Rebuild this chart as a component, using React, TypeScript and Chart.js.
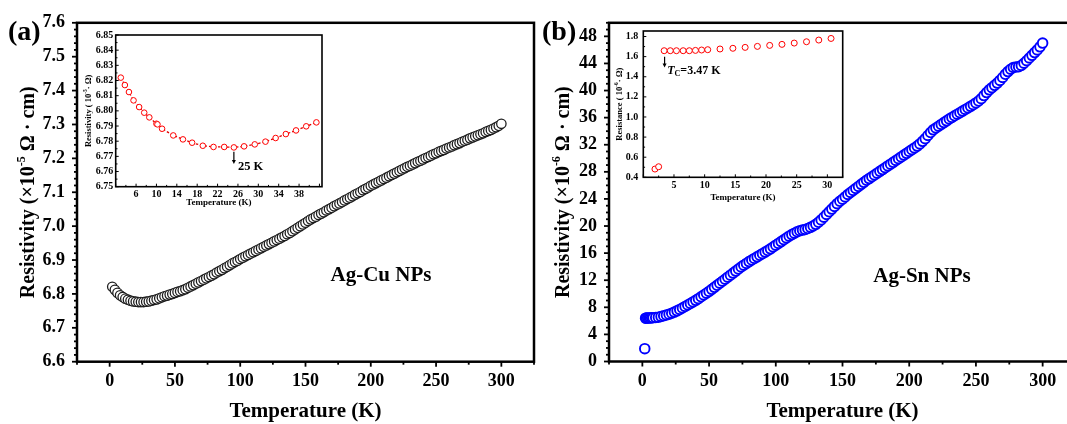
import React, { useEffect, useRef } from "react";
import { Chart, registerables } from "chart.js";

Chart.register(...registerables);

// ---------------- DATA ----------------
// Panel (a): Ag-Cu NPs, resistivity (x10^-5 Ohm cm) vs temperature (K)
const TEMP_A = [2, 4, 6, 8, 10, 12, 14, 16, 18, 20, 22, 24, 26, 28, 30, 32, 34, 36, 38, 40, 42, 44, 46, 48, 50, 52, 54, 56, 58, 60, 62, 64, 66, 68, 70, 72, 74, 76, 78, 80, 82, 84, 86, 88, 90, 92, 94, 96, 98, 100, 102, 104, 106, 108, 110, 112, 114, 116, 118, 120, 122, 124, 126, 128, 130, 132, 134, 136, 138, 140, 142, 144, 146, 148, 150, 152, 154, 156, 158, 160, 162, 164, 166, 168, 170, 172, 174, 176, 178, 180, 182, 184, 186, 188, 190, 192, 194, 196, 198, 200, 202, 204, 206, 208, 210, 212, 214, 216, 218, 220, 222, 224, 226, 228, 230, 232, 234, 236, 238, 240, 242, 244, 246, 248, 250, 252, 254, 256, 258, 260, 262, 264, 266, 268, 270, 272, 274, 276, 278, 280, 282, 284, 286, 288, 290, 292, 294, 296, 298, 300];
const RHO_A = [6.821, 6.812, 6.803, 6.796, 6.791, 6.786, 6.783, 6.78, 6.778, 6.777, 6.776, 6.776, 6.776, 6.777, 6.778, 6.78, 6.782, 6.784, 6.787, 6.79, 6.793, 6.795, 6.798, 6.8, 6.803, 6.806, 6.808, 6.811, 6.814, 6.818, 6.822, 6.826, 6.83, 6.834, 6.838, 6.842, 6.846, 6.85, 6.854, 6.858, 6.863, 6.867, 6.871, 6.876, 6.88, 6.885, 6.89, 6.894, 6.898, 6.903, 6.907, 6.911, 6.915, 6.919, 6.923, 6.927, 6.931, 6.935, 6.939, 6.943, 6.947, 6.951, 6.955, 6.959, 6.963, 6.967, 6.971, 6.976, 6.98, 6.985, 6.99, 6.995, 7.0, 7.005, 7.01, 7.015, 7.02, 7.024, 7.028, 7.033, 7.037, 7.041, 7.046, 7.05, 7.054, 7.059, 7.063, 7.067, 7.071, 7.076, 7.08, 7.084, 7.088, 7.093, 7.097, 7.101, 7.106, 7.11, 7.114, 7.119, 7.123, 7.127, 7.131, 7.135, 7.139, 7.143, 7.147, 7.151, 7.155, 7.159, 7.163, 7.167, 7.171, 7.175, 7.178, 7.182, 7.186, 7.19, 7.193, 7.197, 7.201, 7.204, 7.208, 7.212, 7.215, 7.219, 7.222, 7.225, 7.229, 7.232, 7.235, 7.239, 7.242, 7.245, 7.249, 7.252, 7.255, 7.259, 7.262, 7.265, 7.268, 7.271, 7.274, 7.278, 7.281, 7.284, 7.288, 7.292, 7.296, 7.302];

// Inset of (a)
const TEMP_A_INSET = [3.0, 3.8, 4.6, 5.5, 6.6, 7.6, 8.6, 10.0, 10.2, 11.1, 13.3, 15.2, 17.0, 19.1, 21.2, 23.3, 25.2, 27.2, 29.3, 31.4, 33.4, 35.4, 37.4, 39.4, 41.4];
const RHO_A_INSET = [6.8219, 6.817, 6.8124, 6.8069, 6.8025, 6.7988, 6.7957, 6.7915, 6.7911, 6.7882, 6.7838, 6.7812, 6.779, 6.777, 6.7762, 6.7762, 6.7759, 6.7766, 6.7779, 6.7797, 6.7821, 6.7847, 6.7871, 6.7898, 6.7924];

// Panel (b): Ag-Sn NPs, resistivity (x10^-6 Ohm cm) vs temperature (K)
const TEMP_B = [1.8, 2.4, 3, 4, 5, 6, 7, 8, 10, 12, 14, 16, 18, 20, 22, 24, 26, 28, 30, 32, 34, 36, 38, 40, 42, 44, 46, 48, 50, 52, 54, 56, 58, 60, 62, 64, 66, 68, 70, 72, 74, 76, 78, 80, 82, 84, 86, 88, 90, 92, 94, 96, 98, 100, 102, 104, 106, 108, 110, 112, 114, 116, 118, 120, 122, 124, 126, 128, 130, 132, 134, 136, 138, 140, 142, 144, 146, 148, 150, 152, 154, 156, 158, 160, 162, 164, 166, 168, 170, 172, 174, 176, 178, 180, 182, 184, 186, 188, 190, 192, 194, 196, 198, 200, 202, 204, 206, 208, 210, 212, 214, 216, 218, 220, 222, 224, 226, 228, 230, 232, 234, 236, 238, 240, 242, 244, 246, 248, 250, 252, 254, 256, 258, 260, 262, 264, 266, 268, 270, 272, 274, 276, 278, 280, 282, 284, 286, 288, 290, 292, 294, 296, 298, 300];
const RHO_B = [1.9, 6.4, 6.41, 6.42, 6.43, 6.44, 6.45, 6.46, 6.5, 6.55, 6.65, 6.75, 6.86, 6.98, 7.12, 7.29, 7.48, 7.69, 7.9, 8.12, 8.34, 8.57, 8.8, 9.03, 9.28, 9.55, 9.82, 10.08, 10.35, 10.65, 10.95, 11.25, 11.55, 11.85, 12.15, 12.45, 12.75, 13.05, 13.35, 13.65, 13.95, 14.22, 14.48, 14.75, 14.98, 15.22, 15.45, 15.68, 15.92, 16.15, 16.38, 16.63, 16.9, 17.17, 17.43, 17.7, 17.97, 18.23, 18.5, 18.73, 18.95, 19.15, 19.3, 19.4, 19.5, 19.63, 19.8, 20.0, 20.25, 20.55, 20.9, 21.3, 21.7, 22.1, 22.5, 22.9, 23.3, 23.65, 23.95, 24.3, 24.65, 24.95, 25.25, 25.55, 25.85, 26.15, 26.45, 26.75, 27.0, 27.27, 27.53, 27.8, 28.07, 28.33, 28.6, 28.87, 29.13, 29.4, 29.67, 29.93, 30.2, 30.47, 30.73, 31.0, 31.27, 31.53, 31.8, 32.12, 32.5, 32.9, 33.37, 33.8, 34.2, 34.47, 34.73, 35.0, 35.27, 35.53, 35.8, 36.03, 36.27, 36.5, 36.73, 36.97, 37.2, 37.43, 37.67, 37.9, 38.17, 38.45, 38.8, 39.25, 39.7, 40.1, 40.43, 40.77, 41.1, 41.5, 41.93, 42.4, 42.8, 43.15, 43.4, 43.47, 43.53, 43.7, 44.03, 44.4, 44.8, 45.2, 45.6, 46.0, 46.45, 47.0];

// Inset of (b)
const TEMP_B_INSET = [1.9, 2.5, 3.4, 4.4, 5.4, 6.5, 7.5, 8.5, 9.5, 10.5, 12.5, 14.6, 16.6, 18.6, 20.6, 22.6, 24.6, 26.6, 28.6, 30.6];
const R_B_INSET = [0.482, 0.505, 1.659, 1.659, 1.659, 1.659, 1.659, 1.662, 1.666, 1.669, 1.676, 1.683, 1.692, 1.702, 1.712, 1.722, 1.735, 1.748, 1.765, 1.781];

// Tick labels
const X_TICKS_MAIN = [0, 50, 100, 150, 200, 250, 300];
const Y_TICKS_A = [6.6, 6.7, 6.8, 6.9, 7.0, 7.1, 7.2, 7.3, 7.4, 7.5, 7.6];
const Y_TICKS_B = [0, 4, 8, 12, 16, 20, 24, 28, 32, 36, 40, 44, 48];
const X_TICKS_A_INSET = [6, 10, 14, 18, 22, 26, 30, 34, 38];
const Y_TICKS_A_INSET = [6.75, 6.76, 6.77, 6.78, 6.79, 6.8, 6.81, 6.82, 6.83, 6.84, 6.85];
const X_TICKS_B_INSET = [5, 10, 15, 20, 25, 30];
const Y_TICKS_B_INSET = [0.4, 0.6, 0.8, 1.0, 1.2, 1.4, 1.6, 1.8];

// ---------------- HELPERS ----------------
const FAM = '"Liberation Serif", "Times New Roman", serif';
const fnt = (style: string, size: number) => `${style} ${size}px ${FAM}`;

type Part = { t: string; f: string; dy?: number };

function drawParts(ctx: CanvasRenderingContext2D, parts: Part[], x: number, y: number, align: string) {
  let total = 0;
  const widths = parts.map((p) => {
    ctx.font = p.f;
    const w = ctx.measureText(p.t).width;
    total += w;
    return w;
  });
  let cx = align === "center" ? x - total / 2 : align === "right" ? x - total : x;
  ctx.textBaseline = "middle";
  ctx.textAlign = "left";
  ctx.fillStyle = "#000";
  parts.forEach((p, i) => {
    ctx.font = p.f;
    ctx.fillText(p.t, cx, y + (p.dy || 0));
    cx += widths[i];
  });
}

function tickValues(major: number[], sub: number, min: number, max: number) {
  const step = major[1] - major[0];
  const ms = step / sub;
  const k0 = Math.ceil((min - major[0]) / ms - 1e-9);
  const k1 = Math.floor((max - major[0]) / ms + 1e-9);
  const res: { v: number; major: boolean }[] = [];
  for (let k = k0; k <= k1; k++) res.push({ v: major[0] + k * ms, major: k % sub === 0 });
  return res;
}

type DecorCfg = {
  frameWidth: number;
  inward: boolean;
  tickLen: number;
  tickWidth: number;
  xMajor: number[];
  xSub: number;
  yMajor: number[];
  ySub: number;
  fillArea?: boolean;
  xTitle: { parts: Part[]; y: number };
  yTitle: { parts: Part[]; x: number };
  texts?: { parts: Part[]; x: number; y: number; align: string }[];
  dataTexts?: { parts: Part[]; dx: number; dy: number; align: string }[];
  arrows?: { x: number; y1: number; y2: number }[];
};

function makeDecor(cfg: DecorCfg) {
  return {
    id: "decor",
    beforeDraw(chart: any) {
      if (!cfg.fillArea) return;
      const ca = chart.chartArea;
      const ctx = chart.ctx;
      ctx.save();
      ctx.fillStyle = "#fff";
      ctx.fillRect(ca.left, ca.top, ca.right - ca.left, ca.bottom - ca.top);
      ctx.restore();
    },
    afterDraw(chart: any) {
      const ctx: CanvasRenderingContext2D = chart.ctx;
      const ca = chart.chartArea;
      const xs = chart.scales.x;
      const ys = chart.scales.y;
      ctx.save();
      ctx.strokeStyle = "#000";
      ctx.fillStyle = "#000";
      ctx.lineWidth = cfg.tickWidth;
      const dir = cfg.inward ? -1 : 1;
      for (const t of tickValues(cfg.xMajor, cfg.xSub, xs.min, xs.max)) {
        const px = xs.getPixelForValue(t.v);
        const L = t.major ? cfg.tickLen : cfg.tickLen * 0.6;
        ctx.beginPath();
        ctx.moveTo(px, ca.bottom);
        ctx.lineTo(px, ca.bottom + dir * L);
        ctx.stroke();
      }
      for (const t of tickValues(cfg.yMajor, cfg.ySub, ys.min, ys.max)) {
        const py = ys.getPixelForValue(t.v);
        const L = t.major ? cfg.tickLen : cfg.tickLen * 0.6;
        ctx.beginPath();
        ctx.moveTo(ca.left, py);
        ctx.lineTo(ca.left - dir * L, py);
        ctx.stroke();
      }
      // frame
      ctx.lineWidth = cfg.frameWidth;
      ctx.strokeRect(ca.left, ca.top, ca.right - ca.left, ca.bottom - ca.top);
      // axis titles
      drawParts(ctx, cfg.xTitle.parts, (ca.left + ca.right) / 2, cfg.xTitle.y, "center");
      ctx.save();
      ctx.translate(cfg.yTitle.x, (ca.top + ca.bottom) / 2);
      ctx.rotate(-Math.PI / 2);
      drawParts(ctx, cfg.yTitle.parts, 0, 0, "center");
      ctx.restore();
      // free texts
      (cfg.texts || []).forEach((t) => drawParts(ctx, t.parts, t.x, t.y, t.align));
      (cfg.dataTexts || []).forEach((t) =>
        drawParts(ctx, t.parts, xs.getPixelForValue(t.dx), ys.getPixelForValue(t.dy), t.align)
      );
      // arrows
      ctx.lineWidth = 1.2;
      (cfg.arrows || []).forEach((a) => {
        const x = xs.getPixelForValue(a.x);
        const y1 = ys.getPixelForValue(a.y1);
        const y2 = ys.getPixelForValue(a.y2);
        ctx.beginPath();
        ctx.moveTo(x, y1);
        ctx.lineTo(x, y2 - 3);
        ctx.stroke();
        ctx.beginPath();
        ctx.moveTo(x - 2, y2 - 4);
        ctx.lineTo(x + 2, y2 - 4);
        ctx.lineTo(x, y2);
        ctx.closePath();
        ctx.fill();
      });
      ctx.restore();
    },
  };
}

function axis(
  kind: "x" | "y",
  min: number,
  max: number,
  ticks: number[],
  fmt: (v: number) => string,
  size: number,
  pad: number,
  thickness: number
) {
  return {
    type: "linear",
    position: kind === "x" ? "bottom" : "left",
    min,
    max,
    grid: { display: false, drawTicks: false },
    border: { display: false },
    title: { display: false },
    ticks: {
      autoSkip: false,
      maxRotation: 0,
      minRotation: 0,
      padding: pad,
      color: "#000",
      font: { family: FAM, size, weight: "bold" },
      callback: (v: any) => fmt(Number(v)),
    },
    afterBuildTicks: (s: any) => {
      s.ticks = ticks.map((v) => ({ value: v }));
    },
    afterFit: (s: any) => {
      if (kind === "x") s.height = thickness;
      else s.width = thickness;
    },
  };
}

function pts(xs: number[], ys: number[]) {
  return xs.map((x, i) => ({ x, y: ys[i] }));
}

function baseOptions(padding: any, xAxis: any, yAxis: any) {
  return {
    responsive: false,
    maintainAspectRatio: false,
    animation: false,
    events: [],
    layout: { padding },
    plugins: { legend: { display: false }, tooltip: { enabled: false } },
    scales: { x: xAxis, y: yAxis },
  };
}

// ---------------- CONFIGS ----------------
function configMainA() {
  return {
    type: "scatter",
    data: {
      datasets: [
        {
          data: pts(TEMP_A, RHO_A),
          pointRadius: 4.7,
          pointBorderWidth: 1.3,
          pointBorderColor: "#1e1e1e",
          pointBackgroundColor: "#fff",
          showLine: false,
        },
      ],
    },
    options: baseOptions(
      { top: 22.7, right: 6, left: 0, bottom: 0 },
      axis("x", -25, 325, X_TICKS_MAIN, (v) => String(v), 18, 9, 62.3),
      axis("y", 6.6, 7.6, Y_TICKS_A, (v) => v.toFixed(1), 18, 12, 77)
    ),
    plugins: [
      makeDecor({
        frameWidth: 2.5,
        inward: false,
        tickLen: 5,
        tickWidth: 1.8,
        xMajor: X_TICKS_MAIN,
        xSub: 2,
        yMajor: Y_TICKS_A,
        ySub: 5,
        xTitle: { parts: [{ t: "Temperature (K)", f: fnt("bold", 21) }], y: 411.5 },
        yTitle: {
          x: 28.5,
          parts: [
            { t: "Resistivity (×10", f: fnt("bold", 20) },
            { t: "-5", f: fnt("bold", 12), dy: -7 },
            { t: " Ω · cm)", f: fnt("bold", 20) },
          ],
        },
        texts: [
          { parts: [{ t: "(a)", f: fnt("bold", 28) }], x: 8, y: 33, align: "left" },
          { parts: [{ t: "Ag-Cu NPs", f: fnt("bold", 21) }], x: 381, y: 276, align: "center" },
        ],
      }),
    ],
  };
}

function configMainB() {
  return {
    type: "scatter",
    data: {
      datasets: [
        {
          data: pts(TEMP_B, RHO_B),
          pointRadius: 4.8,
          pointBorderWidth: 1.9,
          pointBorderColor: "#0000ff",
          pointBackgroundColor: "#fff",
          showLine: false,
        },
      ],
    },
    options: baseOptions(
      { top: 18.5, right: 9, left: 0, bottom: 0 },
      axis("x", -25, 325, X_TICKS_MAIN, (v) => String(v), 18, 9, 62.5),
      axis("y", 0, 50, Y_TICKS_B, (v) => String(Math.round(v)), 18, 12, 71)
    ),
    plugins: [
      makeDecor({
        frameWidth: 2.5,
        inward: false,
        tickLen: 5,
        tickWidth: 1.8,
        xMajor: X_TICKS_MAIN,
        xSub: 2,
        yMajor: Y_TICKS_B,
        ySub: 4,
        xTitle: { parts: [{ t: "Temperature (K)", f: fnt("bold", 21) }], y: 411.7 },
        yTitle: {
          x: 26,
          parts: [
            { t: "Resistivity (×10", f: fnt("bold", 20) },
            { t: "-6", f: fnt("bold", 12), dy: -7 },
            { t: " Ω · cm)", f: fnt("bold", 20) },
          ],
        },
        texts: [
          { parts: [{ t: "(b)", f: fnt("bold", 28) }], x: 4, y: 33, align: "left" },
          { parts: [{ t: "Ag-Sn NPs", f: fnt("bold", 21) }], x: 384, y: 277, align: "center" },
        ],
      }),
    ],
  };
}

function configInsetA() {
  return {
    type: "scatter",
    data: {
      datasets: [
        {
          data: pts(TEMP_A_INSET, RHO_A_INSET),
          showLine: true,
          borderColor: "#e00000",
          borderWidth: 1.3,
          borderDash: [2.5, 2],
          pointRadius: 2.8,
          pointBorderWidth: 1,
          pointBorderColor: "#ff0000",
          pointBackgroundColor: "#fff",
        },
      ],
    },
    options: baseOptions(
      { top: 10, right: 8, left: 0, bottom: 0 },
      axis("x", 2, 42.5, X_TICKS_A_INSET, (v) => String(v), 10, 1.5, 28.3),
      axis("y", 6.75, 6.85, Y_TICKS_A_INSET, (v) => v.toFixed(2), 10, 2.5, 35.7)
    ),
    plugins: [
      makeDecor({
        frameWidth: 1.6,
        inward: true,
        tickLen: 3,
        tickWidth: 1,
        fillArea: true,
        xMajor: X_TICKS_A_INSET,
        xSub: 2,
        yMajor: Y_TICKS_A_INSET,
        ySub: 2,
        xTitle: { parts: [{ t: "Temperature (K)", f: fnt("bold", 9) }], y: 177.7 },
        yTitle: {
          x: 9,
          parts: [
            { t: "Resistivity ( 10", f: fnt("bold", 8.5) },
            { t: "-5", f: fnt("bold", 5.5), dy: -3 },
            { t: "· Ω)", f: fnt("bold", 8.5) },
          ],
        },
        dataTexts: [{ parts: [{ t: "25 K", f: fnt("bold", 12.5) }], dx: 26, dy: 6.7632, align: "left" }],
        arrows: [{ x: 25.2, y1: 6.773, y2: 6.765 }],
      }),
    ],
  };
}

function configInsetB() {
  return {
    type: "scatter",
    data: {
      datasets: [
        {
          data: pts(TEMP_B_INSET, R_B_INSET),
          showLine: false,
          pointRadius: 3,
          pointBorderWidth: 1,
          pointBorderColor: "#ff0000",
          pointBackgroundColor: "#fff",
        },
      ],
    },
    options: baseOptions(
      { top: 10, right: 12.3, left: 0, bottom: 0 },
      axis("x", 0, 32.5, X_TICKS_B_INSET, (v) => String(v), 10, 1.7, 32.7),
      axis("y", 0.4, 1.855, Y_TICKS_B_INSET, (v) => v.toFixed(1), 10, 5, 43.3)
    ),
    plugins: [
      makeDecor({
        frameWidth: 1.6,
        inward: true,
        tickLen: 3,
        tickWidth: 1,
        fillArea: true,
        xMajor: X_TICKS_B_INSET,
        xSub: 2,
        yMajor: Y_TICKS_B_INSET,
        ySub: 2,
        xTitle: { parts: [{ t: "Temperature (K)", f: fnt("bold", 9) }], y: 177.3 },
        yTitle: {
          x: 20,
          parts: [
            { t: "Resistance ( 10", f: fnt("bold", 8.5) },
            { t: "-6", f: fnt("bold", 5.5), dy: -3 },
            { t: "· Ω)", f: fnt("bold", 8.5) },
          ],
        },
        dataTexts: [
          {
            parts: [
              { t: "T", f: fnt("italic bold", 12) },
              { t: "C", f: fnt("bold", 8), dy: 3 },
              { t: "=3.47 K", f: fnt("bold", 12) },
            ],
            dx: 3.9,
            dy: 1.461,
            align: "left",
          },
        ],
        arrows: [{ x: 3.47, y1: 1.599, y2: 1.493 }],
      }),
    ],
  };
}

// ---------------- COMPONENTS ----------------
function ChartBox(props: { left: number; top: number; width: number; height: number; make: () => any }) {
  const ref = useRef<HTMLCanvasElement>(null);
  useEffect(() => {
    const chart = new Chart(ref.current as HTMLCanvasElement, props.make());
    return () => chart.destroy();
  }, []);
  return (
    <canvas
      ref={ref}
      width={props.width}
      height={props.height}
      style={{ position: "absolute", left: props.left, top: props.top, width: props.width, height: props.height }}
    />
  );
}

export default function App() {
  return (
    <div
      style={{
        position: "absolute",
        left: 0,
        top: 0,
        width: 1067,
        height: 424,
        overflow: "hidden",
        background: "#fff",
      }}
    >
      <ChartBox left={0} top={0} width={540} height={424} make={configMainA} />
      <ChartBox left={538} top={0} width={547} height={424} make={configMainB} />
      <ChartBox left={80} top={25} width={250} height={190} make={configInsetA} />
      <ChartBox left={600} top={20} width={255} height={190} make={configInsetB} />
    </div>
  );
}
